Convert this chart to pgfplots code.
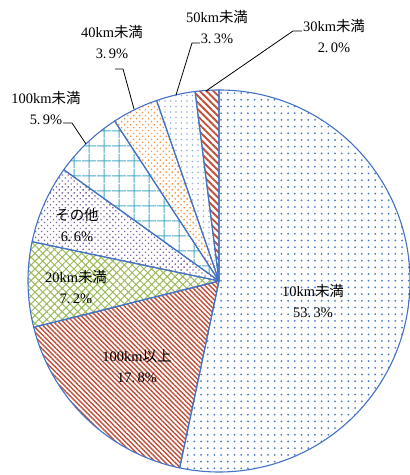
\documentclass[border=0pt]{standalone}
\usepackage{fontspec}
\setmainfont{Liberation Serif}
\newfontfamily\cjk{Noto Sans CJK JP}
\usepackage{pgfplots}
\pgfplotsset{compat=1.18}
\usetikzlibrary{patterns.meta}
\definecolor{bord}{HTML}{4472C4}
\definecolor{cBlue}{HTML}{4A7BBF}
\definecolor{cRed}{HTML}{C0503A}
\definecolor{cGreen}{HTML}{9BBB59}
\definecolor{cPurple}{HTML}{8064A2}
\definecolor{cTeal}{HTML}{4BACC6}
\definecolor{cOrange}{HTML}{F79646}
\definecolor{cLight}{HTML}{95B3D7}
\newcommand\R{191bp}
% slice from cumulative percent #1 to #2, clockwise from 12 o'clock
\newcommand\slicepath[2]{(axis cs:0,0) -- ++({90-3.6*#1}:\R) arc[start angle={90-3.6*#1}, end angle={90-3.6*#2}, radius=\R] -- cycle}
\newcommand\slice[3]{\path[preaction={fill=white}, #3] \slicepath{#1}{#2};}
\newcommand\sliceborder[2]{\draw[bord, line width=1.1bp, line join=round] \slicepath{#1}{#2};}
\newcommand\lab[1]{{\cjk #1}}
\begin{document}
\begin{tikzpicture}
\begin{axis}[
  hide axis, x=1bp, y=1bp,
  xmin=-219, xmax=190, ymin=-194, ymax=281,
  clip=false,
]
% percentages: 53.3, 17.8, 7.2, 6.6, 5.9, 3.9, 3.3, 2.0
\slice{0}{53.3}{pattern={Dots[distance=6.7bp, radius=1bp]}, pattern color=cBlue}
\slice{53.3}{71.1}{pattern={Lines[angle=-45, distance=3.4bp, line width=1.4bp]}, pattern color=cRed}
\slice{71.1}{78.3}{pattern={Hatch[angle=45, distance=5.5bp, line width=1bp]}, pattern color=cGreen}
\slice{78.3}{84.9}{pattern={Dots[angle=45, distance=4.2bp, radius=0.95bp]}, pattern color=cPurple}
\slice{84.9}{90.8}{pattern={Hatch[angle=0, distance=15bp, line width=1.1bp]}, pattern color=cTeal}
\slice{90.8}{94.7}{pattern={Dots[angle=45, distance=4.2bp, radius=1bp]}, pattern color=cOrange}
\slice{94.7}{98.0}{pattern={Dots[distance=5.5bp, radius=0.95bp]}, pattern color=cLight}
\slice{98.0}{100}{pattern={Lines[angle=-45, distance=4.8bp, line width=1.9bp]}, pattern color=cRed}
\sliceborder{0}{53.3}
\sliceborder{53.3}{71.1}
\sliceborder{71.1}{78.3}
\sliceborder{78.3}{84.9}
\sliceborder{84.9}{90.8}
\sliceborder{90.8}{94.7}
\sliceborder{94.7}{98.0}
\sliceborder{98.0}{100}
% leader lines
\draw[black, line width=0.8bp] (axis cs:83,250) -- (axis cs:74,250) -- (axis cs:-13,190);
\draw[black, line width=0.8bp] (axis cs:-19,238) -- (axis cs:-27,238) -- (axis cs:-43,186);
\draw[black, line width=0.8bp] (axis cs:-104,212) -- (axis cs:-96,212) -- (axis cs:-85,172);
\draw[black, line width=0.8bp] (axis cs:-156,158) -- (axis cs:-147,158) -- (axis cs:-133,137);
% labels
\tikzset{lbl/.style={align=center, text=black, inner sep=0pt, font=\fontsize{14.5}{20.5}\selectfont}}
\node[lbl] at (axis cs:94,-20) {10km\lab{未満}\\53.\,3\%};
\node[lbl] at (axis cs:-82,-85) {100km\lab{以上}\\17.\,8\%};
\node[lbl] at (axis cs:-143,-6) {20km\lab{未満}\\7.\,2\%};
\node[lbl] at (axis cs:-142,56) {\lab{その他}\\6.\,6\%};
\node[lbl] at (axis cs:-173,173) {100km\lab{未満}\\5.\,9\%};
\node[lbl] at (axis cs:-107,239) {40km\lab{未満}\\3.\,9\%};
\node[lbl] at (axis cs:-2,254) {50km\lab{未満}\\3.\,3\%};
\node[lbl] at (axis cs:115,245) {30km\lab{未満}\\2.\,0\%};
\coordinate (bbll) at (axis cs:-219,-194);
\coordinate (bbur) at (axis cs:190,281);
\end{axis}
\pgfresetboundingbox
\useasboundingbox (bbll) rectangle (bbur);
\end{tikzpicture}
\end{document}
